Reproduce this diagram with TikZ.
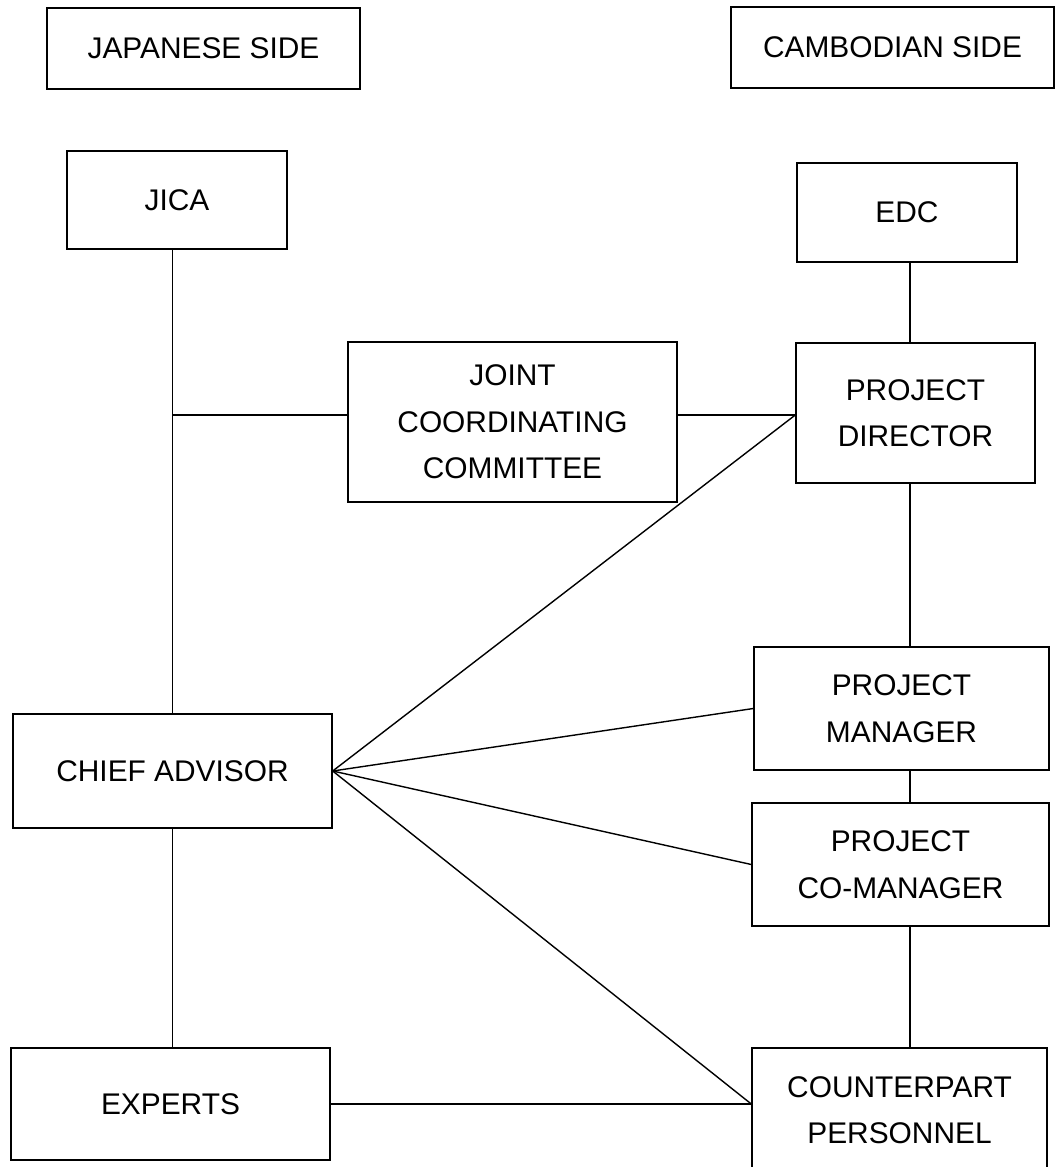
\documentclass[tikz,border=0pt]{standalone}
\usepackage{fontspec}
\setmainfont{Liberation Sans}
\usetikzlibrary{calc}

\begin{document}
\begin{tikzpicture}[
  block/.style = {draw, line width=0.8pt, align=center, inner sep=2pt,
                  font=\fontsize{17}{26.5}\selectfont},
  link/.style = {line width=0.8pt}
]
  \useasboundingbox (0,0) rectangle (21.12,-23.34);

  % Side headings
  \node[block, minimum width=6.26cm, minimum height=1.62cm] (jside) at (4.07,-0.97) {JAPANESE SIDE};
  \node[block, minimum width=6.46cm, minimum height=1.62cm] (cside) at (17.85,-0.95) {CAMBODIAN SIDE};

  % Japanese side
  \node[block, minimum width=4.40cm, minimum height=1.96cm] (jica) at (3.54,-4.00) {JICA};
  \node[block, minimum width=6.38cm, minimum height=2.28cm] (chief) at (3.45,-15.42) {CHIEF ADVISOR};
  \node[block, minimum width=6.38cm, minimum height=2.24cm] (experts) at (3.41,-22.08) {EXPERTS};

  % Committee
  \node[block, minimum width=6.58cm, minimum height=3.20cm] (jcc) at (10.25,-8.44) {JOINT\\COORDINATING\\COMMITTEE};

  % Cambodian side
  \node[block, minimum width=4.40cm, minimum height=1.98cm] (edc) at (18.14,-4.25) {EDC};
  \node[block, minimum width=4.78cm, minimum height=2.80cm] (pd) at (18.31,-8.26) {PROJECT\\DIRECTOR};
  \node[block, minimum width=5.90cm, minimum height=2.46cm] (pm) at (18.03,-14.17) {PROJECT\\MANAGER};
  \node[block, minimum width=5.94cm, minimum height=2.46cm] (pcm) at (18.01,-17.29) {PROJECT\\CO-MANAGER};
  \node[block, minimum width=5.90cm, minimum height=2.48cm] (cp) at (17.99,-22.20) {COUNTERPART\\PERSONNEL};

  % Helper points
  \coordinate (spine) at (18.20,0);
  \coordinate (jn) at ($(chief.north |- 0,-8.30)$);

  % Japanese chain
  \draw[link] (chief.north |- jica.south) -- (chief.north);
  \draw[link] (chief.south) -- (chief.south |- experts.north);

  % Committee links
  \draw[link] (jn) -- (jn -| jcc.west);
  \draw[link] (jn -| jcc.east) -- (jn -| pd.west);

  % Cambodian chain
  \draw[link] (spine |- edc.south) -- (spine |- pd.north);
  \draw[link] (spine |- pd.south) -- (spine |- pm.north);
  \draw[link] (spine |- pm.south) -- (spine |- pcm.north);
  \draw[link] (spine |- pcm.south) -- (spine |- cp.north);

  % Chief advisor fan
  \draw[link] (chief.east) -- (jn -| pd.west);
  \draw[link] (chief.east) -- (pm.west);
  \draw[link] (chief.east) -- (pcm.west);
  \draw[link] (chief.east) -- (experts.east -| cp.west);

  % Experts to counterparts
  \draw[link] (experts.east) -- (experts.east -| cp.west);

\end{tikzpicture}
\end{document}
